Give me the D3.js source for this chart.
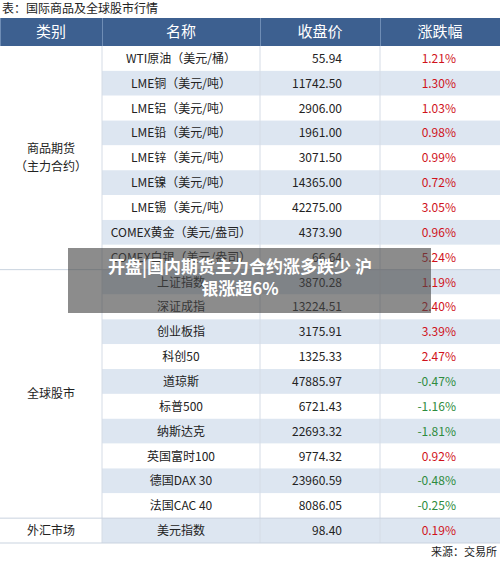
<!doctype html>
<html><head><meta charset="UTF-8">
<script src="https://d3js.org/d3.v7.js"></script>
<style>body{margin:0;background:#fff;font-family:"Noto Sans CJK SC","Noto Sans",sans-serif;}</style>
</head><body><svg id="cvas" width="500" height="562"></svg>
<script>
const names = ["WTI原油（美元/桶）","LME铜（美元/吨）","LME铝（美元/吨）","LME铅（美元/吨）","LME锌（美元/吨）","LME镍（美元/吨）","LME锡（美元/吨）","COMEX黄金（美元/盎司）","COMEX白银（美元/盎司）",
  "上证指数","深证成指","创业板指","科创50","道琼斯","标普500","纳斯达克","英国富时100","德国DAX 30","法国CAC 40","美元指数"];
const prices = ["55.94","11742.50","2906.00","1961.00","3071.50","14365.00","42275.00","4373.90","66.64",
  "3870.28","13224.51","3175.91","1325.33","47885.97","6721.43","22693.32","9774.32","23960.59","8086.05","98.40"];
const changes = [1.21,1.30,1.03,0.98,0.99,0.72,3.05,0.96,5.24,1.19,2.40,3.39,2.47,-0.47,-1.16,-1.81,0.92,-0.48,-0.25,0.19];
const groups = [{label:["商品期货","（主力合约）"],start:0,end:9},{label:["全球股市"],start:9,end:19},{label:["外汇市场"],start:19,end:20}];
const headers = ["类别","名称","收盘价","涨跌幅"];

const svg = d3.select("#cvas");
const cols = [0,102,260,380,500];
const tableTop = 46, rowH = 24.85;
const y = d3.scaleLinear().domain([0, names.length]).range([tableTop, tableTop + rowH*names.length]);

svg.append("text").attr("x",2).attr("y",13).attr("font-size",12).attr("fill","#222").text("表：国际商品及全球股市行情");
svg.append("rect").attr("x",0).attr("y",18).attr("width",500).attr("height",tableTop-18).attr("fill","#3d6090");
headers.forEach((h,i)=>{
  svg.append("rect").attr("x",cols[i]).attr("y",18).attr("width",1).attr("height",tableTop-18).attr("fill","#6f8db5");
  svg.append("text").attr("x",(cols[i]+cols[i+1])/2).attr("y",37).attr("text-anchor","middle")
    .attr("font-size",15).attr("fill","#fff").text(h);
});
const rows = svg.selectAll(".row").data(names).join("g").attr("class","row");
rows.append("rect").attr("x",cols[1]).attr("y",(d,i)=>y(i)).attr("width",500-cols[1]).attr("height",rowH)
  .attr("fill",(d,i)=>i%2==1?"#dde6f1":"#fff");
rows.append("text").attr("x",(cols[1]+cols[2])/2).attr("y",(d,i)=>y(i)+rowH/2+4.5).attr("text-anchor","middle")
  .attr("font-size",12).attr("fill","#222").text(d=>d);
rows.append("text").attr("x",342).attr("y",(d,i)=>y(i)+rowH/2+4.5).attr("text-anchor","end")
  .attr("font-size",12).attr("fill","#222").text((d,i)=>prices[i]);
rows.append("text").attr("x",456).attr("y",(d,i)=>y(i)+rowH/2+4.5).attr("text-anchor","end")
  .attr("font-size",12).attr("fill",(d,i)=>changes[i]<0?"#2e8b3e":"#d0121b").text((d,i)=>changes[i].toFixed(2)+"%");
[1,2,3].forEach(i=>svg.append("line").attr("x1",cols[i]).attr("x2",cols[i]).attr("y1",tableTop).attr("y2",y(names.length)).attr("stroke","#d5dce6"));
groups.forEach(g=>{
  svg.append("line").attr("x1",0).attr("x2",500).attr("y1",y(g.end)).attr("y2",y(g.end)).attr("stroke","#c9d3df");
  const cy=(y(g.start)+y(g.end))/2;
  g.label.forEach((l,k)=>svg.append("text").attr("x",51).attr("y",cy+4.5+(k-(g.label.length-1)/2)*18)
    .attr("text-anchor","middle").attr("font-size",12).attr("fill","#222").text(l));
});
svg.append("text").attr("x",497).attr("y",y(names.length)+13).attr("text-anchor","end").attr("font-size",11).attr("fill","#222").text("来源：交易所");

// overlay banner
svg.append("rect").attr("x",68).attr("y",248).attr("width",363).attr("height",65).attr("fill","rgba(70,70,70,0.62)");
["开盘|国内期货主力合约涨多跌少 沪","银涨超6%"].forEach((t,k)=>svg.append("text").attr("x",240).attr("y",273+k*22)
  .attr("text-anchor","middle").attr("font-size",17).attr("font-weight","bold").attr("fill","#fff").text(t));
</script></body></html>
